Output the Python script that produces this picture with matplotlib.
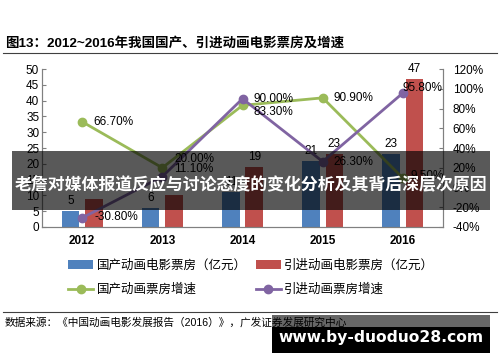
import matplotlib; matplotlib.use("Agg")
import matplotlib.pyplot as plt
import numpy as np
from matplotlib.patches import Rectangle

plt.rcParams['font.family'] = ['Liberation Sans', 'Noto Sans CJK SC', 'DejaVu Sans']

years = ["2012", "2013", "2014", "2015", "2016"]
domestic = [5, 6, 11, 21, 23]
imported = [9, 10, 19, 23, 47]
domestic_growth = [66.7, 20.0, 83.3, 90.9, 9.5]
imported_growth = [-30.8, 11.1, 90.0, 26.3, 95.8]
imported_shown = [False, False, True, True, True]

# label offsets in pixels (dx, dy)
dom_off = [(11, 0), (12, 9), (11, -7), (11, 0), (8, 2)]
imp_off = [(12, 1), (12, 8), (11, 0), (11, 0), (0, 5)]

BLUE, RED, GREEN, PURPLE = "#4F81BD", "#C0504D", "#9BBB59", "#8064A2"

fig = plt.figure(figsize=(5, 3.62), dpi=100)
ax = fig.add_axes([0.084, 0.373, 0.802, 0.436])
ax2 = ax.twinx()

x = np.arange(len(years))
w, d = 0.22, 0.145
b1 = ax.bar(x - d, domestic, w, color=BLUE, label="国产动画电影票房（亿元）")
b2 = ax.bar(x + d, imported, w, color=RED, label="引进动画电影票房（亿元）")
for xi, v in zip(x, domestic):
    ax.annotate(f"{v}", (xi - d, v), xytext=(0, 4), textcoords="offset pixels", ha="center", va="bottom", fontsize=8.5)
for xi, v, s in zip(x, imported, imported_shown):
    if s:
        ax.annotate(f"{v}", (xi + d, v), xytext=(0, 4), textcoords="offset pixels", ha="center", va="bottom", fontsize=8.5)

l1, = ax2.plot(x, domestic_growth, color=GREEN, lw=2, marker="o", ms=6, label="国产动画票房增速")
l2, = ax2.plot(x, imported_growth, color=PURPLE, lw=2, marker="o", ms=6, label="引进动画票房增速")
for xi, v, o in zip(x, domestic_growth, dom_off):
    ax2.annotate(f"{v:.2f}%", (xi, v), xytext=o, textcoords="offset pixels", ha="left", va="center", fontsize=8.5)
for xi, v, o in zip(x, imported_growth, imp_off):
    ax2.annotate(f"{v:.2f}%", (xi, v), xytext=o, textcoords="offset pixels", ha="left", va="center", fontsize=8.5)

ax.set_xlim(-0.5, 4.5)
ax.set_ylim(0, 50)
ax.set_yticks(range(0, 51, 5))
ax2.set_ylim(-40, 120)
ax2.set_yticks(range(-40, 121, 20))
ax2.set_yticklabels([f"{t}%" for t in range(-40, 121, 20)])
ax.set_xticks(x)
ax.set_xticklabels(years, fontweight="bold")
ax.tick_params(axis="x", length=0, pad=6, labelsize=8.5)
ax.tick_params(axis="y", direction="in", length=3, pad=2, labelsize=8.5, color="#808080")
ax2.tick_params(axis="y", direction="in", length=3, pad=7, labelsize=8.5, color="#808080")
for a in (ax, ax2):
    a.spines["top"].set_visible(False)
    for s in ("left", "right", "bottom"):
        a.spines[s].set_color("#808080")

fig.legend(handles=[b1, l1, b2, l2], loc="upper left", bbox_to_anchor=(0.136, 0.283), ncol=2,
           frameon=False, fontsize=9, handlelength=2.0, handletextpad=0.3, columnspacing=0.7,
           labelspacing=0.95, borderpad=0, borderaxespad=0)

fig.text(0.01, 0.881, "图13：2012~2016年我国国产、引进动画电影票房及增速", fontsize=9.7, fontweight="bold", va="center")
fig.add_artist(plt.Line2D([0.006, 0.994], [0.853, 0.853], color="#404040", lw=0.8))
fig.add_artist(plt.Line2D([0.006, 0.994], [0.138, 0.138], color="#404040", lw=0.8))
fig.text(0.01, 0.110, "数据来源：《中国动画电影发展报告（2016）》，广发证券发展研究中心", fontsize=7.7, va="center")

# overlay banner
fig.add_artist(Rectangle((0.024, 0.420), 0.956, 0.163, transform=fig.transFigure, color="black", alpha=0.65, lw=0))
fig.text(0.502, 0.489, "老詹对媒体报道反应与讨论态度的变化分析及其背后深层次原因", color="white",
         fontsize=12.2, fontweight="bold", ha="center", va="center", family=["Noto Sans CJK SC"])
# watermark
fig.add_artist(Rectangle((0.544, 0.097), 0.436, 0.033, transform=fig.transFigure, color="black", alpha=0.6, lw=0))
fig.add_artist(Rectangle((0.544, 0.025), 0.436, 0.072, transform=fig.transFigure, color="black", lw=0))
fig.text(0.762, 0.069, "www.by-duoduo28.com", color="white", fontsize=11.2, fontweight="bold",
         ha="center", va="center", family=["DejaVu Sans"])

fig.savefig("out.png", dpi=100)
